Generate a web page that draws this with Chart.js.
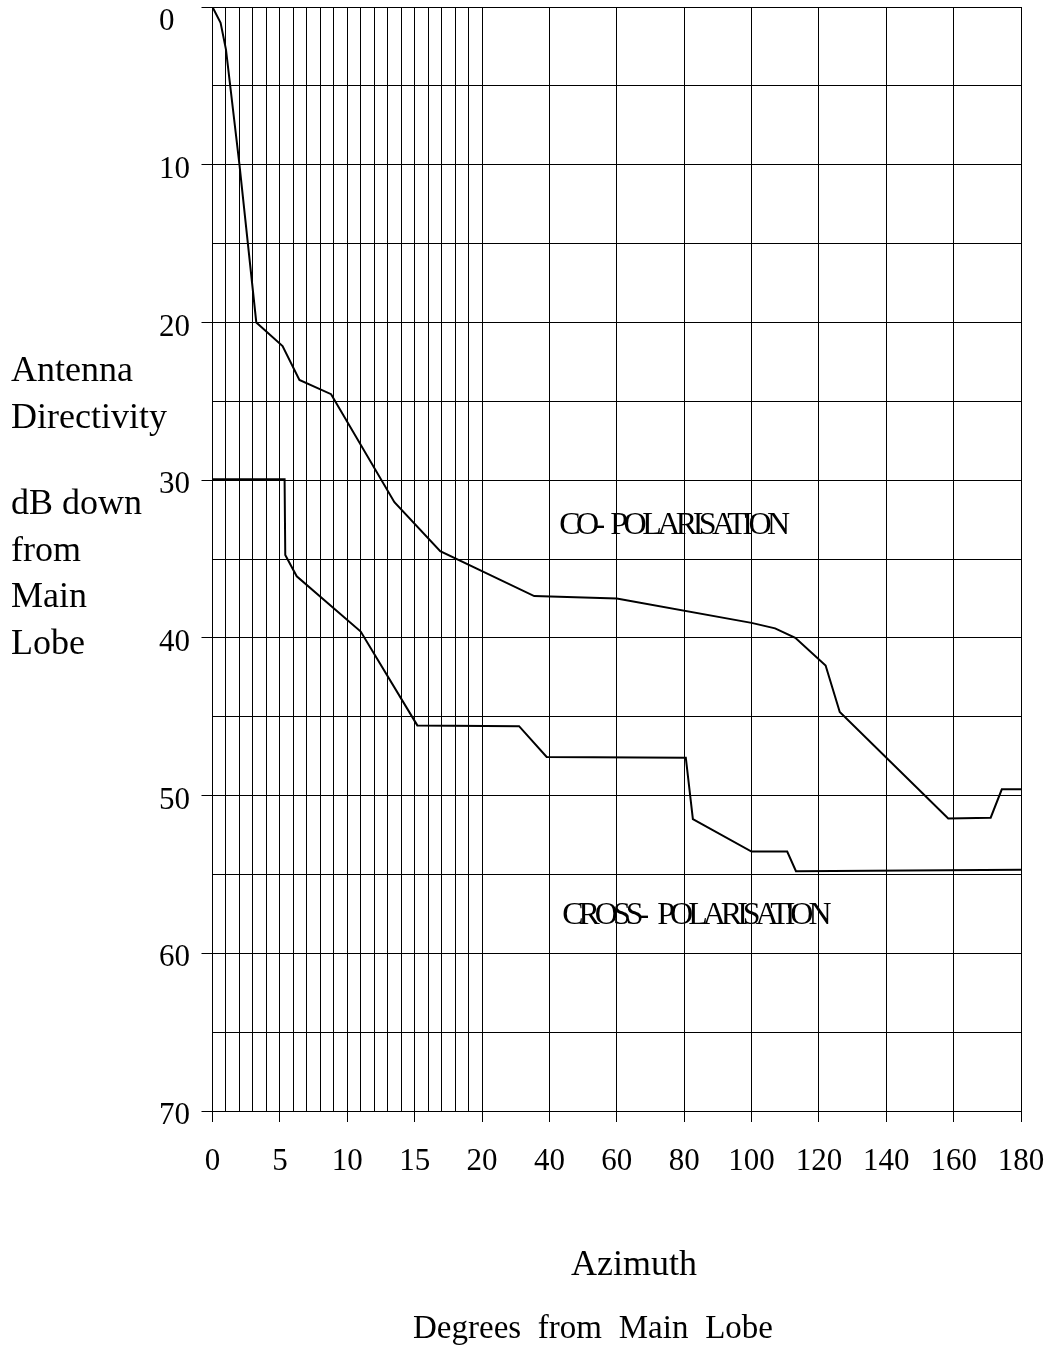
<!DOCTYPE html>
<html><head><meta charset="utf-8">
<script src="https://cdn.jsdelivr.net/npm/chart.js@4.4.1/dist/chart.umd.min.js"></script>
<style>html,body{margin:0;padding:0;background:#fff}#wrap{width:1051px;height:1346px;position:relative}</style>
</head><body><div id="wrap"><canvas id="c"></canvas></div>
<script>
// ---- data (degrees from main lobe / dB down) ----
const xTickLabels = [0, 5, 10, 15, 20, 40, 60, 80, 100, 120, 140, 160, 180];
const xGridDegrees = [0,1,2,3,4,5,6,7,8,9,10,11,12,13,14,15,16,17,18,19,20,40,60,80,100,120,140,160,180];
const yTickLabels = [0, 10, 20, 30, 40, 50, 60, 70];
const yGridLevels = [0,5,10,15,20,25,30,35,40,45,50,55,60,65,70];

const coPolAzimuth = [0, 0.6, 1.0, 2.0, 3.25, 5.2, 6.45, 8.8, 13.5, 16.9, 35.5, 60, 100, 107, 113, 122, 126.2, 158.4, 171, 174.3, 180];
const coPolLevel   = [0, 1.0, 2.7, 10.0, 20.0, 21.5, 23.65, 24.55, 31.4, 34.5, 37.35, 37.5, 39.05, 39.4, 40.0, 41.75, 44.7, 51.45, 51.4, 49.6, 49.6];

const crossPolAzimuth = [0, 5.35, 5.4, 6.25, 11.0, 15.2, 31.0, 39.2, 80.5, 82.6, 100, 110.6, 113.2, 180];
const crossPolLevel   = [29.95, 29.95, 34.75, 36.1, 39.6, 45.55, 45.6, 47.55, 47.6, 51.5, 53.55, 53.55, 54.8, 54.7];

const yTitleLines = ['Antenna', 'Directivity', '', 'dB down', 'from', 'Main', 'Lobe'];
const xTitleLines = ['Azimuth', 'Degrees from Main Lobe'];

// ---- split azimuth axis: 0-20 deg expanded, 20-180 deg compressed 4x ----
const BREAK_DEG = 20, COMPRESS = 4;
function axisUnits(deg) { return deg <= BREAK_DEG ? deg : BREAK_DEG + (deg - BREAK_DEG) / COMPRESS; }
function fromAxisUnits(u) { return u <= BREAK_DEG ? u : BREAK_DEG + (u - BREAK_DEG) * COMPRESS; }

class SplitLinearScale extends Chart.LinearScale {
  getPixelForValue(value) {
    const a = axisUnits(this.min), b = axisUnits(this.max);
    return this.getPixelForDecimal((axisUnits(value) - a) / (b - a));
  }
  getValueForPixel(pixel) {
    const a = axisUnits(this.min), b = axisUnits(this.max);
    return fromAxisUnits(a + this.getDecimalForPixel(pixel) * (b - a));
  }
}
SplitLinearScale.id = 'splitLinear';
SplitLinearScale.defaults = Chart.LinearScale.defaults;
Chart.register(SplitLinearScale);

const FONT = '"Liberation Serif", "Times New Roman", serif';
const toPoints = (xs, ys) => xs.map((x, i) => ({ x, y: ys[i] }));

const textPlugin = {
  id: 'texts',
  afterDraw(chart) {
    const ctx = chart.ctx, xs = chart.scales.x, ys = chart.scales.y;
    ctx.save();
    ctx.fillStyle = '#000';
    ctx.textBaseline = 'alphabetic';
    // y-axis title, horizontal, left aligned
    ctx.font = '36px ' + FONT;
    ctx.textAlign = 'left';
    let yy = 381;
    yTitleLines.forEach((t, i) => {
      if (i > 0) yy += (yTitleLines[i - 1] === '' ? 39.2 : 46.8);
      if (t) ctx.fillText(t, 11, yy);
    });
    // x-axis title
    ctx.textAlign = 'center';
    ctx.fillText(xTitleLines[0], 634, 1275);
    ctx.font = '33px ' + FONT;
    ctx.wordSpacing = '8.5px';
    ctx.fillText(xTitleLines[1], 593, 1338);
    // curve labels
    ctx.font = '32px ' + FONT;
    ctx.textAlign = 'left';
    ctx.letterSpacing = '-4.5px';
    ctx.wordSpacing = '6px';
    ctx.fillText('CO- POLARISATION', xs.getPixelForValue(42.9), ys.getPixelForValue(33.4));
    ctx.letterSpacing = '-5px';
    ctx.wordSpacing = '10px';
    ctx.fillText('CROSS- POLARISATION', xs.getPixelForValue(43.8), ys.getPixelForValue(58.15));
    ctx.restore();
  }
};

new Chart(document.getElementById('c'), {
  type: 'line',
  data: {
    datasets: [
      { label: 'Co-polarisation', data: toPoints(coPolAzimuth, coPolLevel) },
      { label: 'Cross-polarisation', data: toPoints(crossPolAzimuth, crossPolLevel) }
    ]
  },
  options: {
    responsive: true,
    maintainAspectRatio: false,
    animation: false,
    events: [],
    layout: { padding: { left: 159, top: 7, right: 30, bottom: 0 } },
    elements: {
      line: { borderColor: '#000', borderWidth: 2, tension: 0, fill: false },
      point: { radius: 0 }
    },
    plugins: { legend: { display: false }, tooltip: { enabled: false }, title: { display: false } },
    scales: {
      x: {
        type: 'splitLinear',
        position: 'bottom',
        min: 0, max: 180,
        afterBuildTicks: s => { s.ticks = xGridDegrees.map(v => ({ value: v })); },
        afterFit: s => { s.height = 235; s.paddingLeft = 0; s.paddingRight = 0; },
        ticks: {
          autoSkip: false, maxRotation: 0, minRotation: 0,
          color: '#000', padding: 21,
          font: { family: FONT, size: 31 },
          callback: v => xTickLabels.includes(v) ? String(v) : ''
        },
        grid: {
          color: '#000', lineWidth: 1, tickLength: 11,
          tickColor: c => (c.tick && xTickLabels.includes(c.tick.value)) ? '#000' : 'rgba(0,0,0,0)'
        },
        border: { display: true, color: '#000', width: 1 }
      },
      y: {
        type: 'linear',
        reverse: true,
        min: 0, max: 70,
        afterBuildTicks: s => { s.ticks = yGridLevels.map(v => ({ value: v })); },
        afterFit: s => { s.width = 53.5; s.paddingTop = 0; s.paddingBottom = 0; },
        ticks: {
          color: '#000', padding: 10, crossAlign: 'far', labelOffset: 5,
          font: c => (c.tick && c.tick.value === 0) ? { family: FONT, size: 31, lineHeight: '20px' } : { family: FONT, size: 31 },
          callback: v => v === 0 ? ['', '0'] : (yTickLabels.includes(v) ? String(v) : '')
        },
        grid: {
          color: '#000', lineWidth: 1, tickLength: 11,
          tickColor: c => (c.tick && yTickLabels.includes(c.tick.value)) ? '#000' : 'rgba(0,0,0,0)'
        },
        border: { display: true, color: '#000', width: 1 }
      }
    }
  },
  plugins: [textPlugin]
});
</script></body></html>
